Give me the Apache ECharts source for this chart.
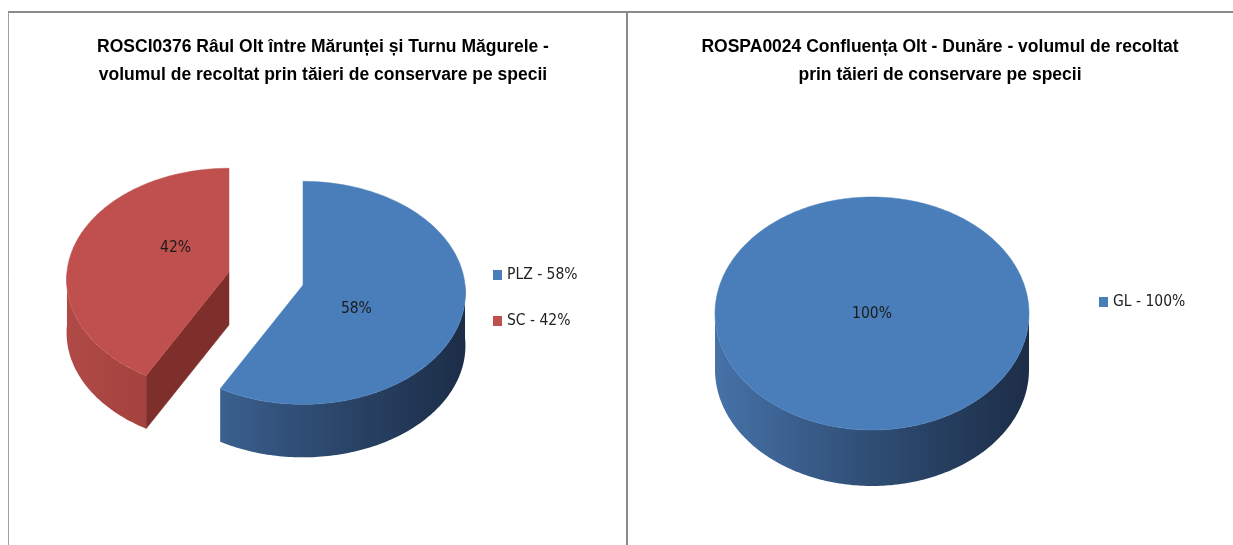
<!DOCTYPE html>
<html><head><meta charset="utf-8">
<script src="https://cdn.jsdelivr.net/npm/echarts@6/dist/echarts.min.js"></script>
<style>html,body{margin:0;padding:0;background:#fff}#main{width:1233px;height:545px}</style>
</head><body><div id="main"></div>
<script>
// ---- data ----
const leftTitle = 'ROSCI0376 Râul Olt între Mărunței și Turnu Măgurele -\nvolumul de recoltat prin tăieri de conservare pe specii';
const rightTitle = 'ROSPA0024 Confluența Olt - Dunăre - volumul de recoltat\nprin tăieri de conservare pe specii';
const leftCategories = ['PLZ', 'SC'];
const leftValues = [58, 42];
const rightCategories = ['GL'];
const rightValues = [100];

// ---- styles / layout ----
const BLUE = {top: '#4A7EBB', side: ['#4672A8', '#2F4D74', '#1C2D47'], cut: '#2C4970'};
const RED = {top: '#C0504D', side: ['#B04A46', '#963A37', '#7A2D2B'], cut: '#7E2F2C'};
const PALETTE = {PLZ: BLUE, SC: RED, GL: BLUE};
const TITLE_FONT = '"Liberation Sans", Arial, sans-serif';
const LABEL_FONT = '"DejaVu Sans Condensed", "Liberation Sans", sans-serif';

const PIES = [
  {cats: leftCategories, vals: leftValues, title: leftTitle, titleX: 318,
   cx: 266, cy: 278.5, rx: 162, ry: 111.5, depth: 53, persp: 0.07, explode: 0.236, labelRx: 0.34, labelRy: 0.85,
   legendLeft: 488, legendTop: 262},
  {cats: rightCategories, vals: rightValues, title: rightTitle, titleX: 935,
   cx: 872, cy: 313.5, rx: 157, ry: 116.5, depth: 56, persp: 0, explode: 0, labelRx: 0, labelRy: 0,
   legendLeft: 1094, legendTop: 289}
];

function makeRender(pie, idx) {
  const total = pie.vals.reduce((a, b) => a + b, 0);
  let cum = 0;
  for (let k = 0; k < idx; k++) cum += pie.vals[k];
  const pal = PALETTE[pie.cats[idx]];
  return function (params, api) {
    const v = api.value(0);
    const a0 = cum / total * 360, a1 = (cum + v) / total * 360;
    const full = (a1 - a0) >= 359.999;
    const midDeg = (a0 + a1) / 2, mid = midDeg * Math.PI / 180;
    const cx = pie.cx + (full ? 0 : pie.explode * pie.rx * Math.sin(mid));
    const cy = pie.cy + (full ? 0 : -pie.explode * pie.ry * Math.cos(mid));
    const h = pie.depth;
    function P(deg, r, dz) {
      const t = deg * Math.PI / 180;
      const s = Math.sin(t), c = -Math.cos(t);
      const k = 1 + pie.persp * c * r;
      return [cx + pie.rx * s * r * k, cy + pie.ry * c * r * k + dz];
    }
    function arc(from, to, dz) {
      const pts = [];
      const n = Math.max(2, Math.ceil(Math.abs(to - from)));
      for (let i = 0; i <= n; i++) pts.push(P(from + (to - from) * i / n, 1, dz));
      return pts;
    }
    const grad = new echarts.graphic.LinearGradient(cx - pie.rx, 0, cx + pie.rx, 0, [
      {offset: 0, color: pal.side[0]}, {offset: 0.5, color: pal.side[1]}, {offset: 1, color: pal.side[2]}
    ], true);
    const children = [];
    if (!full) {
      const sa0 = Math.sin(a0 * Math.PI / 180), sa1 = Math.sin(a1 * Math.PI / 180);
      if (sa0 < -1e-6) {
        children.push({type: 'polygon', shape: {points: [[cx, cy], P(a0, 1, 0), P(a0, 1, h), [cx, cy + h]]},
          style: {fill: pal.cut, stroke: pal.cut, lineWidth: 0.5}});
      }
      if (sa1 > 1e-6) {
        children.push({type: 'polygon', shape: {points: [[cx, cy], P(a1, 1, 0), P(a1, 1, h), [cx, cy + h]]},
          style: {fill: pal.cut, stroke: pal.cut, lineWidth: 0.5}});
      }
    }
    const s = Math.max(a0, 90), e = Math.min(a1, 270);
    if (e > s) {
      const pts = arc(s, e, 0).concat(arc(e, s, h));
      children.push({type: 'polygon', shape: {points: pts}, style: {fill: grad}});
    }
    const topPts = full ? arc(0, 360, 0) : [[cx, cy]].concat(arc(a0, a1, 0));
    children.push({type: 'polygon', shape: {points: topPts}, style: {fill: pal.top, stroke: pal.top, lineWidth: 0.5}});
    const lp = full ? [cx, cy] : [cx + pie.rx * pie.labelRx * Math.sin(mid), cy - pie.ry * pie.labelRy * Math.cos(mid)];
    children.push({type: 'text', x: lp[0], y: lp[1], style: {
      text: Math.round(v / total * 100) + '%', align: 'center', verticalAlign: 'middle',
      fill: '#1a1a1a', font: '15.5px ' + LABEL_FONT}});
    return {type: 'group', children: children};
  };
}

const series = [];
PIES.forEach(pie => {
  pie.cats.forEach((cat, i) => {
    series.push({type: 'custom', name: cat, coordinateSystem: 'none', silent: true, animation: false,
      itemStyle: {color: PALETTE[cat].top}, data: [[pie.vals[i]]], renderItem: makeRender(pie, i)});
  });
});

function pctOf(name) {
  for (const pie of PIES) {
    const i = pie.cats.indexOf(name);
    if (i >= 0) {
      const total = pie.vals.reduce((a, b) => a + b, 0);
      return Math.round(pie.vals[i] / total * 100);
    }
  }
  return 0;
}

const chart = echarts.init(document.getElementById('main'), null, {renderer: 'canvas'});
chart.setOption({
  animation: false,
  backgroundColor: '#ffffff',
  title: PIES.map(p => ({text: p.title, left: p.titleX, top: 28, textAlign: 'center',
    textStyle: {fontFamily: TITLE_FONT, fontWeight: 'bold', fontSize: 17.5, lineHeight: 28, color: '#000'}})),
  legend: PIES.map(p => ({data: p.cats, orient: 'vertical', left: p.legendLeft, top: p.legendTop,
    itemWidth: 9, itemHeight: 10, itemGap: 30, icon: 'rect', selectedMode: false,
    textStyle: {fontFamily: LABEL_FONT, fontSize: 15.5, color: '#222'},
    formatter: name => name + ' - ' + pctOf(name) + '%'})),
  graphic: [
    {type: 'line', shape: {x1: 8, y1: 12, x2: 1233, y2: 12}, style: {stroke: '#8a8a8a', lineWidth: 2}},
    {type: 'line', shape: {x1: 8.5, y1: 12, x2: 8.5, y2: 545}, style: {stroke: '#a0a0a0', lineWidth: 1}},
    {type: 'line', shape: {x1: 627, y1: 12, x2: 627, y2: 545}, style: {stroke: '#8a8a8a', lineWidth: 2}}
  ],
  series: series
});
</script></body></html>
